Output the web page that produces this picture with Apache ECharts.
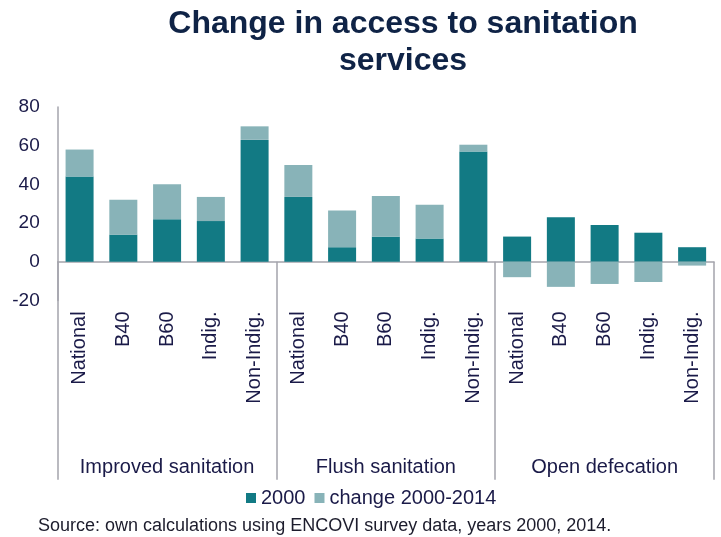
<!DOCTYPE html>
<html>
<head>
<meta charset="utf-8">
<title>Change in access to sanitation services</title>
<script src="https://cdn.jsdelivr.net/npm/echarts@6/dist/echarts.min.js"></script>
<style>
  html, body { margin: 0; padding: 0; background: #ffffff; }
  #chart { width: 721px; height: 537px; }
</style>
</head>
<body>
<div id="chart"></div>
<script>
// Population groups shown within each indicator
const groups = ['National', 'B40', 'B60', 'Indig.', 'Non-Indig.'];
// Indicator blocks along the bottom
const indicators = ['Improved sanitation', 'Flush sanitation', 'Open defecation'];

// Access in 2000 (%)
const improved2000 = [44, 14, 22, 21, 63];
const flush2000 = [33.5, 7.5, 13, 12, 57];
const openDef2000 = [13, 23, 19, 15, 7.5];

// Change between 2000 and 2014 (percentage points)
const improvedChange = [14, 18, 18, 12.5, 7];
const flushChange = [16.5, 19, 21, 17.5, 3.5];
const openDefChange = [-8, -13, -11.5, -10.5, -2];

const seriesNames = ['2000', 'change 2000-2014'];
const yTicks = { min: -20, max: 80, interval: 20 };

const titleText = 'Change in access to sanitation\nservices';
const sourceText = 'Source: own calculations using ENCOVI survey data, years 2000, 2014.';

const categories = [].concat(groups, groups, groups);
const base = [].concat(improved2000, flush2000, openDef2000);
const change = [].concat(improvedChange, flushChange, openDefChange);

const FONT = '"Liberation Sans", Arial, sans-serif';
const TEXT = '#1a1a48';
const LINE = '#a4a4ac';

const chart = echarts.init(document.getElementById('chart'), null, { renderer: 'canvas' });

chart.setOption({
  animation: false,
  backgroundColor: '#ffffff',
  title: [
    {
      text: titleText,
      left: 403,
      top: 6,
      padding: 0,
      textAlign: 'center',
      textStyle: {
        fontFamily: FONT,
        fontSize: 32,
        fontWeight: 'bold',
        color: '#0f2346',
        lineHeight: 37
      }
    },
    {
      text: sourceText,
      left: 38,
      top: 517,
      padding: 0,
      textStyle: {
        fontFamily: FONT,
        fontSize: 18,
        fontWeight: 'normal',
        color: '#1c1c2c'
      }
    }
  ],
  legend: {
    data: seriesNames,
    left: 246,
    top: 488,
    padding: 0,
    itemWidth: 10,
    itemHeight: 10,
    itemGap: 9,
    icon: 'rect',
    textStyle: { fontFamily: FONT, fontSize: 20, color: TEXT }
  },
  grid: {
    left: 57.7,
    right: 7,
    top: 107,
    bottom: 236.6,
    containLabel: false
  },
  xAxis: [
    {
      // group labels, rotated, under the plot area
      type: 'category',
      data: categories,
      position: 'bottom',
      axisLine: { show: false, onZero: false },
      axisTick: { show: false },
      axisLabel: {
        interval: 0,
        rotate: 90,
        margin: 11,
        fontFamily: FONT,
        fontSize: 20,
        color: TEXT
      },
      splitLine: { show: false }
    },
    {
      // indicator blocks: zero line plus long separators
      type: 'category',
      data: indicators,
      position: 'bottom',
      axisLine: { show: true, onZero: true, lineStyle: { color: LINE, width: 1.5 } },
      axisTick: {
        show: true,
        interval: 0,
        length: 218,
        lineStyle: { color: LINE, width: 1.5 }
      },
      axisLabel: {
        interval: 0,
        margin: 157,
        fontFamily: FONT,
        fontSize: 20,
        color: TEXT
      },
      splitLine: { show: false }
    }
  ],
  yAxis: {
    type: 'value',
    min: yTicks.min,
    max: yTicks.max,
    interval: yTicks.interval,
    axisLine: { show: true, lineStyle: { color: LINE, width: 1.5 } },
    axisTick: { show: false },
    splitLine: { show: false },
    axisLabel: {
      margin: 18,
      fontFamily: FONT,
      fontSize: 19,
      color: TEXT
    }
  },
  series: [
    {
      name: seriesNames[0],
      type: 'bar',
      stack: 'total',
      xAxisIndex: 0,
      barWidth: '64%',
      itemStyle: { color: '#127a84' },
      data: base
    },
    {
      name: seriesNames[1],
      type: 'bar',
      stack: 'total',
      xAxisIndex: 0,
      barWidth: '64%',
      itemStyle: { color: '#88b3b8' },
      data: change
    }
  ]
});
</script>
</body>
</html>
